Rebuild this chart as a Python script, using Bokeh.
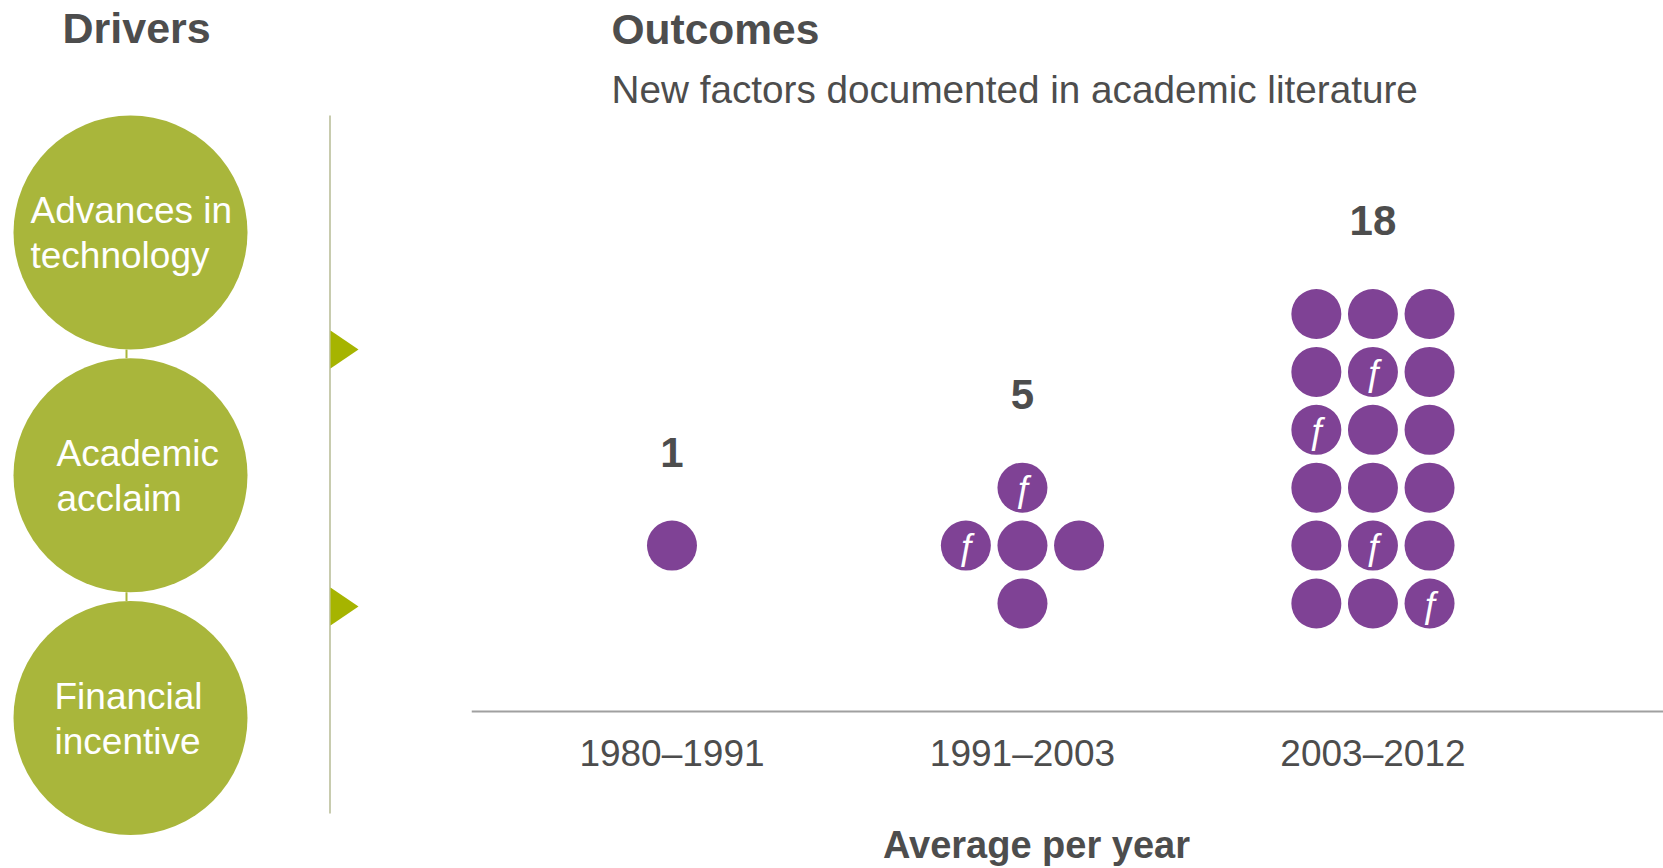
from bokeh.plotting import figure
from bokeh.layouts import row
from bokeh.models import Range1d, FixedTicker, LinearAxis
from bokeh.embed import file_html
from bokeh.resources import INLINE
from bokeh.core.properties import value

# ---------------------------------------------------------------- data
drivers = ["Advances in\ntechnology", "Academic\nacclaim", "Financial\nincentive"]
periods = ["1980–1991", "1991–2003", "2003–2012"]
new_factors_per_year = [1, 5, 18]
# dots carrying the "ƒ" mark, counted row by row from the top-left of each cluster
marked_dots = [[], [0, 1], [4, 6, 13, 17]]

# ---------------------------------------------------------------- styling
W, H = 1663, 868
LEFT_W = 471
RIGHT_W = W - LEFT_W
AXIS_PX = 711                      # distance of the baseline rule from the top

GREEN = "#A9B63B"
ARROW_GREEN = "#A6B400"
RULE = "#A3A979"
PURPLE = "#7F4295"
INK = "#4D4D4D"
FONT = "Liberation Sans"
MID = 0.36                         # baseline -> visual middle, in em


def mid(baseline_px, size):
    """Vertical middle of a text line (pixels from the top) from its baseline."""
    return baseline_px - MID * size


# ---------------------------------------------------------------- drivers panel (pixel space)
left = figure(width=LEFT_W, height=H, x_range=Range1d(0, LEFT_W), y_range=Range1d(H, 0),
              x_axis_type=None, y_axis_type=None, toolbar_location=None,
              output_backend="svg", min_border=0, outline_line_color=None)

CX, CY0, STEP, R = 130, 232, 242.75, 117
cys = [CY0 + i * STEP for i in range(len(drivers))]

# thin links between stacked circles
left.segment(x0=[126] * (len(cys) - 1), y0=[c + R for c in cys[:-1]],
             x1=[126] * (len(cys) - 1), y1=[c - R for c in cys[1:]],
             line_color=GREEN, line_width=2)
left.circle(x=[CX] * len(cys), y=cys, radius=R, fill_color=GREEN, line_color=None)

# text inside the circles, one glyph per line
TEXT_X = [30, 56, 54]
tx, ty, tt = [], [], []
for i, d in enumerate(drivers):
    for j, line in enumerate(d.split("\n")):
        tx.append(TEXT_X[i])
        ty.append(cys[i] - 22 + 45 * j)
        tt.append(line)
left.text(x=tx, y=ty, text=tt, text_font=value(FONT), text_font_size="37px",
          text_color="white", text_align="left", text_baseline="middle")

# divider rule with arrow heads
RULE_X = 329.5
left.segment(x0=[RULE_X], y0=[115], x1=[RULE_X], y1=[813], line_color=RULE, line_width=1.2)
ARROW_Y = [349, 606]
left.patches(xs=[[330, 358, 330] for _ in ARROW_Y],
             ys=[[y - 19, y, y + 19] for y in ARROW_Y],
             fill_color=ARROW_GREEN, line_color=None)

left.text(x=[62], y=[mid(43, 43)], text=["Drivers"], text_font=value(FONT),
          text_font_size="43px", text_font_style="bold", text_color=INK,
          text_align="left", text_baseline="middle")

# ---------------------------------------------------------------- outcomes panel
X0, X1 = 0.428, 3.829              # period index axis
# y: pixels above the baseline rule
right = figure(width=RIGHT_W, height=H, x_range=Range1d(X0, X1),
               y_range=Range1d(AXIS_PX - H, AXIS_PX),
               x_axis_type=None, y_axis_type=None, toolbar_location=None,
               output_backend="svg", min_border=0, outline_line_color=None)

ax = LinearAxis(fixed_location=0)
ax.ticker = FixedTicker(ticks=[i + 1 for i in range(len(periods))])
ax.major_label_overrides = {i + 1: p for i, p in enumerate(periods)}
ax.major_tick_line_color = None
ax.minor_tick_line_color = None
ax.major_tick_out = 0
ax.major_tick_in = 0
ax.axis_line_color = "#A0A0A0"
ax.axis_line_width = 2
ax.major_label_text_font = FONT
ax.major_label_text_font_size = "37px"
ax.major_label_text_color = INK
ax.major_label_standoff = 21
right.add_layout(ax, "below")

DX = 56.6 / 350.5      # horizontal dot pitch (x units)
DY = 57.9              # vertical dot pitch (y units)
BASE = 108             # centre of the lowest dot row


def dot_layout(n):
    """(column offset, row) of each dot, listed row by row from the top-left."""
    if n == 1:
        return [(0, 1)]
    if n == 5:
        return [(0, 2), (-1, 1), (0, 1), (1, 1), (0, 0)]
    rows = -(-n // 3)
    return [(c - 1, rows - 1 - r) for r in range(rows) for c in range(3)][:n]


dx, dy, fx, fy = [], [], [], []
nx, ny, nt = [], [], []
for k, n in enumerate(new_factors_per_year):
    cells = dot_layout(n)
    for idx, (c, r) in enumerate(cells):
        x = k + 1 + c * DX
        y = BASE + r * DY
        dx.append(x)
        dy.append(y)
        if idx in marked_dots[k]:
            fx.append(x)
            fy.append(y)
    top = max(r for _, r in cells)
    nx.append(k + 1)
    ny.append(BASE + top * DY + 78 + MID * 42)
    nt.append(str(n))

right.scatter(x=dx, y=dy, marker="circle", size=50, fill_color=PURPLE, line_color=None)
right.text(x=fx, y=fy, text=["ƒ"] * len(fx), text_font=value(FONT), text_font_size="36px",
           text_color="white", text_align="center", text_baseline="middle",
           x_offset=2, y_offset=1)
right.text(x=nx, y=ny, text=nt, text_font=value(FONT), text_font_size="42px",
           text_font_style="bold", text_color=INK, text_align="center",
           text_baseline="middle")

TITLE_X = X0 + (611 - LEFT_W) / 350.5
right.text(x=[TITLE_X], y=[AXIS_PX - mid(44, 42.5)], text=["Outcomes"], text_font=value(FONT),
           text_font_size="42.5px", text_font_style="bold", text_color=INK,
           text_align="left", text_baseline="middle")
right.text(x=[TITLE_X], y=[AXIS_PX - mid(103, 38.7)],
           text=["New factors documented in academic literature"],
           text_font=value(FONT), text_font_size="38.7px", text_color=INK,
           text_align="left", text_baseline="middle")
right.text(x=[2.04], y=[AXIS_PX - mid(858, 38)], text=["Average per year"],
           text_font=value(FONT), text_font_size="38px", text_font_style="bold",
           text_color=INK, text_align="center", text_baseline="middle")

layout = row(left, right, spacing=0)
open("out.html", "w").write(file_html(layout, INLINE))
